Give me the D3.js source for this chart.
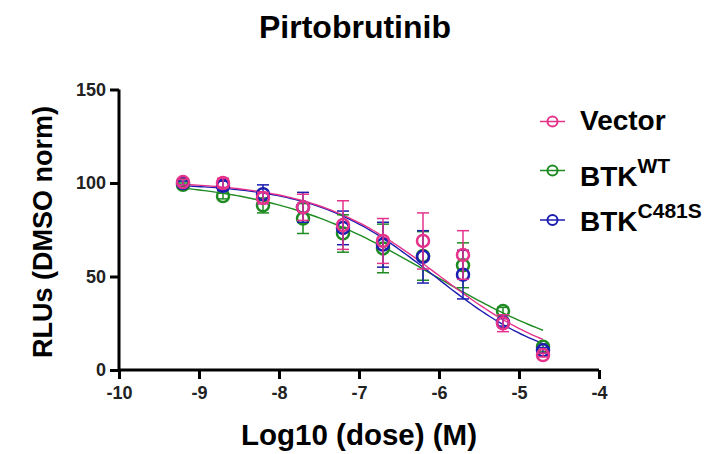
<!DOCTYPE html>
<html>
<head>
<meta charset="utf-8">
<script src="https://cdn.jsdelivr.net/npm/d3@7"></script>
<style>
  html, body { margin: 0; padding: 0; background: #fff; }
  svg { display: block; font-family: "Liberation Sans", Arial, sans-serif; }
</style>
</head>
<body>
<svg id="chart" width="721" height="454"></svg>
<script>
// Log10 dose (M) for each measurement
const doses = [-9.2, -8.7, -8.2, -7.7, -7.2, -6.7, -6.2, -5.7, -5.2, -4.7];

// Mean signal (% of DMSO) and error (SD) per construct
const vectorMean = [100.5, 100, 92, 87, 77.5, 69, 69, 61.5, 25, 8];
const vectorErr  = [1.5, 2.5, 3, 7, 13, 12, 15, 13, 4.5, 1];
const wtMean     = [99, 93, 88, 81, 73, 65, 61, 56, 31.5, 12.5];
const wtErr      = [1, 1.5, 4, 8, 10, 13, 13, 12, 2, 1.5];
const mutMean    = [100, 98.5, 94, 87, 76, 67, 60.5, 51, 25.5, 10.5];
const mutErr     = [1, 2.5, 5, 8, 9, 12, 14, 13, 2, 1.5];

// Four-parameter logistic fit parameters: [top, bottom, logIC50, hill]
const vectorFit = [101, 0, -6.0, 0.55];
const wtFit     = [102, 0, -6.08, 0.42];
const mutFit    = [100, 0, -6.05, 0.58];

const seriesNames = ["Vector", "BTK", "BTK"];
const seriesSup   = ["", "WT", "C481S"];
const colors      = ["#E5338B", "#1E8B22", "#1C1CB0"];

const xTicks = [-10, -9, -8, -7, -6, -5, -4];
const yTicks = [0, 50, 100, 150];

const series = [
  { name: seriesNames[0], sup: seriesSup[0], color: colors[0], mean: vectorMean, err: vectorErr, fit: vectorFit },
  { name: seriesNames[1], sup: seriesSup[1], color: colors[1], mean: wtMean, err: wtErr, fit: wtFit },
  { name: seriesNames[2], sup: seriesSup[2], color: colors[2], mean: mutMean, err: mutErr, fit: mutFit }
];

const svg = d3.select("#chart");
const x = d3.scaleLinear().domain([-10, -4]).range([119, 599]);
const y = d3.scaleLinear().domain([0, 150]).range([370, 89.5]);

// Title
svg.append("text")
  .attr("x", 355).attr("y", 38)
  .attr("text-anchor", "middle")
  .attr("font-size", 32).attr("font-weight", "bold")
  .text("Pirtobrutinib");

// Axes
const fmt = d => String(d); // plain hyphen-minus labels
const xAxis = svg.append("g").attr("transform", `translate(0,${y(0)})`)
  .call(d3.axisBottom(x).tickValues(xTicks).tickSize(9).tickPadding(7).tickFormat(fmt));
const yAxis = svg.append("g").attr("transform", `translate(${x(-10)},0)`)
  .call(d3.axisLeft(y).tickValues(yTicks).tickSize(9).tickPadding(4).tickFormat(fmt));
[xAxis, yAxis].forEach(g => {
  g.select(".domain").attr("stroke", "#000").attr("stroke-width", 3);
  g.selectAll(".tick line").attr("stroke", "#000").attr("stroke-width", 3);
  g.selectAll(".tick text")
    .attr("font-family", "'Liberation Sans', Arial, sans-serif")
    .attr("font-size", 18).attr("font-weight", "bold").attr("fill", "#222");
});
xAxis.select(".domain").attr("d", `M${x(-10)},0H${x(-4)}`);
yAxis.select(".domain").attr("d", `M0,${y(150)}V${y(0)}`);

// Axis titles
svg.append("text")
  .attr("x", 359).attr("y", 445)
  .attr("text-anchor", "middle")
  .attr("font-size", 29.5).attr("font-weight", "bold")
  .text("Log10 (dose) (M)");
svg.append("text")
  .attr("transform", "translate(52,232) rotate(-90)")
  .attr("text-anchor", "middle")
  .attr("font-size", 27).attr("font-weight", "bold")
  .text("RLUs (DMSO norm)");

// Fitted dose-response curves
const logistic = (p, xv) => p[1] + (p[0] - p[1]) / (1 + Math.pow(10, (xv - p[2]) * p[3]));
const curveX = d3.range(0, 101).map(i => doses[0] + (doses[doses.length - 1] - doses[0]) * i / 100);
const line = d3.line().x(d => x(d[0])).y(d => y(d[1]));

const drawOrder = [1, 2, 0];
drawOrder.forEach(i => {
  const s = series[i];
  svg.append("path")
    .datum(curveX.map(xv => [xv, logistic(s.fit, xv)]))
    .attr("fill", "none").attr("stroke", s.color).attr("stroke-width", 1.4)
    .attr("d", line);
});

// Error bars and markers
drawOrder.forEach(i => {
  const s = series[i];
  const g = svg.append("g").attr("stroke", s.color).attr("fill", "none");
  const pts = doses.map((d, k) => ({ x: d, m: s.mean[k], e: s.err[k] }));
  g.selectAll("line.v").data(pts).join("line")
    .attr("x1", d => x(d.x)).attr("x2", d => x(d.x))
    .attr("y1", d => y(d.m + d.e)).attr("y2", d => y(d.m - d.e))
    .attr("stroke-width", 1.5);
  ["top", "bot"].forEach(side => {
    g.selectAll(`line.${side}`).data(pts).join("line")
      .attr("x1", d => x(d.x) - 6).attr("x2", d => x(d.x) + 6)
      .attr("y1", d => y(side === "top" ? d.m + d.e : d.m - d.e))
      .attr("y2", d => y(side === "top" ? d.m + d.e : d.m - d.e))
      .attr("stroke-width", 1.5);
  });
  g.selectAll("circle").data(pts).join("circle")
    .attr("cx", d => x(d.x)).attr("cy", d => y(d.m))
    .attr("r", 6).attr("stroke-width", 2.5);
});

// Legend
const legendSymY = [121.5, 170.5, 220];
const legendBase = [130, 186, 231];
series.forEach((s, i) => {
  const g = svg.append("g");
  g.append("line").attr("x1", 540).attr("x2", 565).attr("y1", legendSymY[i]).attr("y2", legendSymY[i])
    .attr("stroke", s.color).attr("stroke-width", 1.5);
  g.append("circle").attr("cx", 552.5).attr("cy", legendSymY[i]).attr("r", 5)
    .attr("fill", "none").attr("stroke", s.color).attr("stroke-width", 2);
  const t = g.append("text").attr("x", 580).attr("y", legendBase[i])
    .attr("font-size", 28).attr("font-weight", "bold").attr("fill", "#000");
  t.append("tspan").text(s.name);
  if (s.sup) {
    t.append("tspan").attr("font-size", 21).attr("dy", -13).text(s.sup);
  }
});
</script>
</body>
</html>
